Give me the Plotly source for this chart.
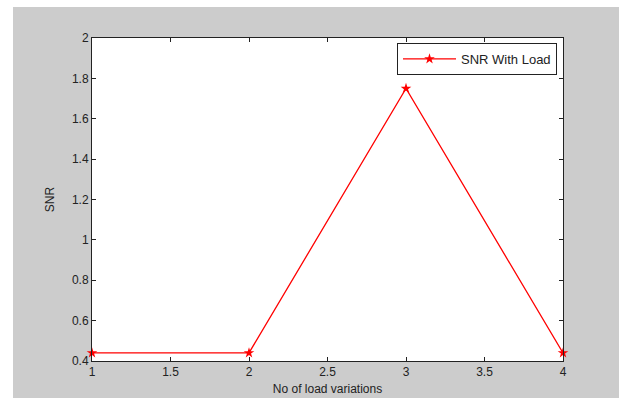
import plotly.graph_objects as go

x_vals = [1, 2, 3, 4]
snr_vals = [0.44, 0.44, 1.75, 0.44]
series_name = "SNR With Load"
x_ticks = [1, 1.5, 2, 2.5, 3, 3.5, 4]
x_ticktext = ["1", "1.5", "2", "2.5", "3", "3.5", "4"]
y_ticks = [0.4, 0.6, 0.8, 1.0, 1.2, 1.4, 1.6, 1.8, 2.0]
y_ticktext = ["0.4", "0.6", "0.8", "1", "1.2", "1.4", "1.6", "1.8", "2"]

W, H = 619, 398
L, R, T, B = 92, 56, 38, 37
pw, ph = W - L - R, H - T - B

def px_x(p):
    return (p - L) / pw

def px_y(p):
    return 1 - (p - T) / ph

fig = go.Figure()
fig.add_trace(go.Scatter(
    x=x_vals, y=snr_vals, mode="lines+markers", name=series_name,
    line=dict(color="#ff0000", width=1.3),
    marker=dict(symbol="star", size=8, color="#ff0000"),
    cliponaxis=False,
))

axis_common = dict(
    showline=True, linecolor="#222222", linewidth=1, mirror="ticks",
    ticks="inside", ticklen=4, tickcolor="#222222", showgrid=False, zeroline=False,
    automargin=False,
    tickfont=dict(family="Liberation Sans, Arial", size=12, color="#222222"),
)

fig.update_layout(
    width=W, height=H,
    margin=dict(l=L, r=R, t=T, b=B, pad=0, autoexpand=False),
    paper_bgcolor="#cccccc", plot_bgcolor="#ffffff",
    font=dict(family="Liberation Sans, Arial", size=12, color="#222222"),
    showlegend=True,
    legend=dict(x=px_x(557), y=px_y(43), xanchor="right", yanchor="top",
                bgcolor="#ffffff", bordercolor="#222222", borderwidth=1,
                font=dict(size=13, color="#222222"), itemwidth=53),
    xaxis=dict(range=[1, 4], tickvals=x_ticks, ticktext=x_ticktext,
               title=dict(text="No of load variations", standoff=6,
                          font=dict(size=12, color="#222222")),
               **axis_common),
    yaxis=dict(range=[0.4, 2.0], tickvals=y_ticks, ticktext=y_ticktext,
               title=dict(text="SNR", standoff=14,
                          font=dict(size=12, color="#222222")),
               **axis_common),
    shapes=[
        dict(type="rect", xref="paper", yref="paper",
             x0=px_x(0), x1=px_x(13), y0=px_y(H), y1=px_y(0),
             fillcolor="#ffffff", line=dict(width=0), layer="below"),
        dict(type="rect", xref="paper", yref="paper",
             x0=px_x(0), x1=px_x(W), y0=px_y(7), y1=px_y(0),
             fillcolor="#ffffff", line=dict(width=0), layer="below"),
    ],
)

fig.write_html(
    "out.html",
    config={"displayModeBar": False},
    post_script="document.body.style.margin='0px';",
)
